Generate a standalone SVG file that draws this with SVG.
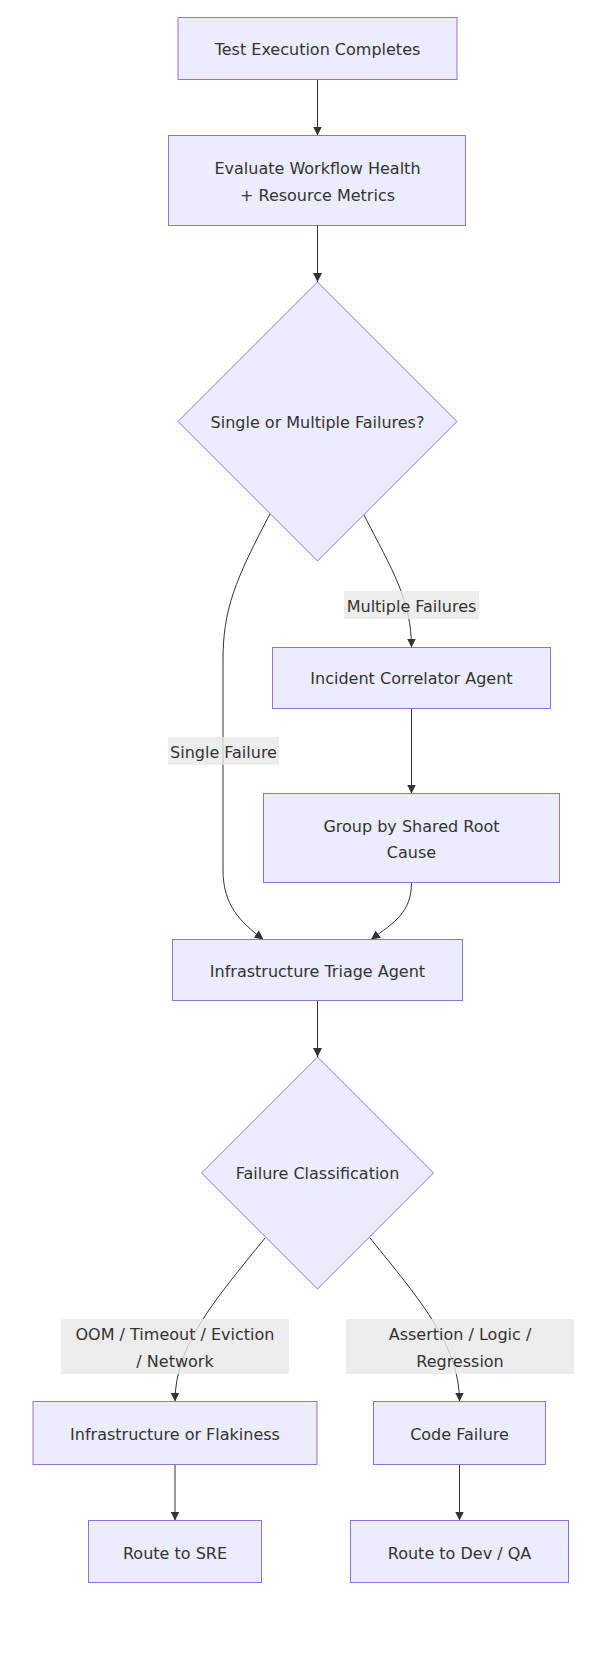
<svg xmlns="http://www.w3.org/2000/svg" width="610" height="1658" viewBox="0 0 610 1658">
<style>
.node rect, .node polygon { fill: #ECECFF; stroke: #9370DB; stroke-width: 1; }
text { font-family: "DejaVu Sans", "Liberation Sans", sans-serif; font-size: 16px; fill: #333; text-anchor: middle; }
.edge { fill: none; stroke: #333; stroke-width: 1; marker-end: url(#arrow); }
.lbl rect { fill: #e8e8e8; fill-opacity: 0.8; }
</style>
<defs>
<marker id="arrow" viewBox="0 0 10 10" refX="10" refY="5" markerWidth="9" markerHeight="9" markerUnits="userSpaceOnUse" orient="auto">
<path d="M0,0 L10,5 L0,10 z" fill="#333"/>
</marker>
</defs>
<rect width="610" height="1658" fill="#fff"/>
<g id="connectors">
<path class="edge" d="M317.5,79.5 L317.5,135.5"/>
<path class="edge" d="M317.5,225.5 L317.5,282"/>
<path class="edge" d="M270,514 C235,580 223,610 223,660 L223,870 C223,905 240,922 263.5,939.5"/>
<path class="edge" d="M364,515 C392,570 411.5,600 411.5,647.5"/>
<path class="edge" d="M411.5,708.5 L411.5,793.5"/>
<path class="edge" d="M411.5,882.5 C411.5,912 395,922 371,939.5"/>
<path class="edge" d="M317.5,1000.5 L317.5,1057"/>
<path class="edge" d="M265,1238 C215,1300 175,1345 175,1401.5"/>
<path class="edge" d="M370,1238 C420,1300 459.5,1345 459.5,1401.5"/>
<path class="edge" d="M175,1464.5 L175,1520.5"/>
<path class="edge" d="M459.5,1464.5 L459.5,1520.5"/>
</g>
<g id="edge-labels">
<g class="lbl"><rect x="344" y="591" width="135" height="28"/><text x="411.5" y="612">Multiple Failures</text></g>
<g class="lbl"><rect x="168" y="737" width="111" height="28"/><text x="223.5" y="757.5">Single Failure</text></g>
<g class="lbl"><rect x="61" y="1319" width="228" height="55"/><text x="175" y="1340">OOM / Timeout / Eviction</text><text x="175" y="1366.5">/ Network</text></g>
<g class="lbl"><rect x="346" y="1319" width="228" height="55"/><text x="460" y="1340">Assertion / Logic /</text><text x="460" y="1366.5">Regression</text></g>
</g>
<g id="n1" class="node"><rect x="178" y="17.5" width="279" height="62"/><text x="317.5" y="55">Test Execution Completes</text></g>
<g id="n2" class="node"><rect x="168.5" y="135.5" width="297" height="90"/><text x="317.5" y="174">Evaluate Workflow Health</text><text x="317.5" y="200.5">+ Resource Metrics</text></g>
<g id="d1" class="node"><polygon points="317.5,282 457,421.5 317.5,561 178,421.5"/><text x="317.5" y="427.5">Single or Multiple Failures?</text></g>
<g id="n3" class="node"><rect x="272.5" y="647.5" width="278" height="61"/><text x="411.5" y="684">Incident Correlator Agent</text></g>
<g id="n4" class="node"><rect x="263.5" y="793.5" width="296" height="89"/><text x="411.5" y="831.5">Group by Shared Root</text><text x="411.5" y="858">Cause</text></g>
<g id="n5" class="node"><rect x="172.5" y="939.5" width="290" height="61"/><text x="317.5" y="976.5">Infrastructure Triage Agent</text></g>
<g id="d2" class="node"><polygon points="317.5,1057 433.5,1173 317.5,1289 201.5,1173"/><text x="317.5" y="1179">Failure Classification</text></g>
<g id="n6" class="node"><rect x="33" y="1401.5" width="284" height="63"/><text x="175" y="1440">Infrastructure or Flakiness</text></g>
<g id="n7" class="node"><rect x="373.5" y="1401.5" width="172" height="63"/><text x="459.5" y="1440">Code Failure</text></g>
<g id="n8" class="node"><rect x="88.5" y="1520.5" width="173" height="62"/><text x="175" y="1559">Route to SRE</text></g>
<g id="n9" class="node"><rect x="350.5" y="1520.5" width="218" height="62"/><text x="459.5" y="1559">Route to Dev / QA</text></g>
</svg>
